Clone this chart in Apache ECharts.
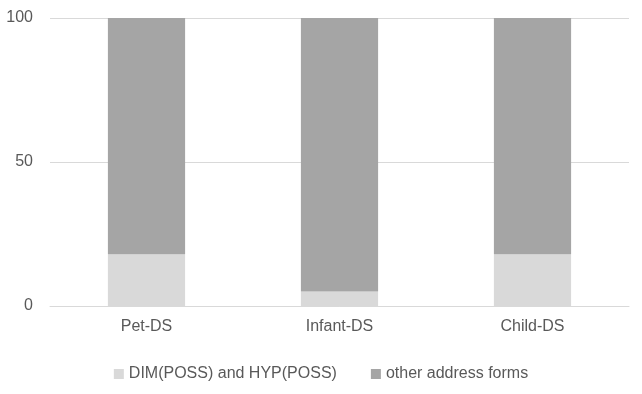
<!DOCTYPE html>
<html><head><meta charset="utf-8">
<script src="https://cdn.jsdelivr.net/npm/echarts@6/dist/echarts.min.js"></script>
<style>html,body{margin:0;padding:0;background:#fff}#c{width:642px;height:394px}</style>
</head><body><div id="c"></div>
<script>
var categories = ['Pet-DS', 'Infant-DS', 'Child-DS'];
var dimHyp = [18, 5, 18];
var otherForms = [82, 95, 82];
var yTicks = [0, 50, 100];

var chart = echarts.init(document.getElementById('c'), null, {renderer: 'canvas'});
var font = 'Liberation Sans';
chart.setOption({
  animation: false,
  backgroundColor: '#ffffff',
  grid: {left: 50, right: 13, top: 18, bottom: 88, containLabel: false},
  legend: {
    bottom: 7, left: 'center', itemWidth: 10, itemHeight: 10, itemGap: 34,
    icon: 'rect',
    textStyle: {color: '#595959', fontSize: 16, fontFamily: font},
    data: ['DIM(POSS) and HYP(POSS)', 'other address forms']
  },
  xAxis: {
    type: 'category', data: categories,
    axisLine: {show: true, lineStyle: {color: '#d9d9d9', width: 1}},
    axisTick: {show: false},
    axisLabel: {color: '#595959', fontSize: 16, fontFamily: font, margin: 13}
  },
  yAxis: {
    type: 'value', min: yTicks[0], max: yTicks[yTicks.length - 1], interval: 50,
    axisLine: {show: false}, axisTick: {show: false},
    splitLine: {lineStyle: {color: '#d9d9d9', width: 1}},
    axisLabel: {color: '#595959', fontSize: 16, fontFamily: font, margin: 17}
  },
  series: [
    {name: 'DIM(POSS) and HYP(POSS)', type: 'bar', stack: 's', data: dimHyp, barWidth: '40%',
     itemStyle: {color: '#d9d9d9'}},
    {name: 'other address forms', type: 'bar', stack: 's', data: otherForms, barWidth: '40%',
     itemStyle: {color: '#a5a5a5'}}
  ]
});
</script></body></html>
